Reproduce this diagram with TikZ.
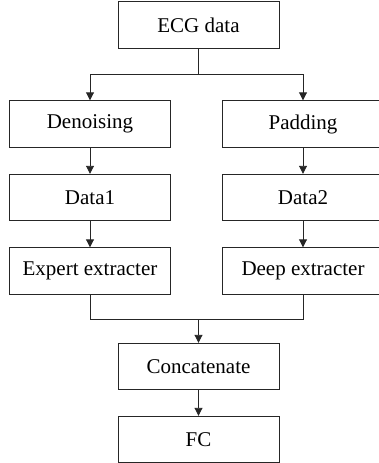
\documentclass[tikz,border=0pt]{standalone}
\usepackage{fontspec}
\setmainfont{Liberation Serif}
\usetikzlibrary{arrows.meta}
\begin{document}
\begin{tikzpicture}[x=1pt,y=-1pt,
  box/.style={draw=black!85,line width=0.9pt,rectangle,minimum width=161pt,minimum height=46.5pt,inner sep=0pt,font=\fontsize{21}{24}\selectfont},
  conn/.style={draw=black!85,line width=0.9pt},
  arr/.style={conn,-{Triangle[length=8pt,width=8pt]}}]
\useasboundingbox (0,0) rectangle (379,463);
\node[box] (ecg) at (198.5,25) {ECG data};
\node[box] (den) at (90,124) {Denoising};
\node[box] (pad) at (303,124) {Padding};
\node[box] (d1) at (90,197.5) {Data1};
\node[box] (d2) at (303,197.5) {Data2};
\node[box] (exp) at (90,271) {Expert extracter};
\node[box] (deep) at (303,271) {Deep extracter};
\node[box] (cat) at (198.5,366.5) {Concatenate};
\node[box] (fc) at (198.5,439.5) {FC};
\coordinate (split) at (198.5,74);
\coordinate (join) at (198.5,319);
\draw[conn] (ecg.south) -- (split);
\draw[arr] (split) -| (den.north);
\draw[arr] (split) -| (pad.north);
\draw[arr] (den) -- (d1);
\draw[arr] (pad) -- (d2);
\draw[arr] (d1) -- (exp);
\draw[arr] (d2) -- (deep);
\draw[conn] (exp.south) |- (join);
\draw[conn] (deep.south) |- (join);
\draw[arr] (join) -- (cat.north);
\draw[arr] (cat) -- (fc);
\end{tikzpicture}
\end{document}
